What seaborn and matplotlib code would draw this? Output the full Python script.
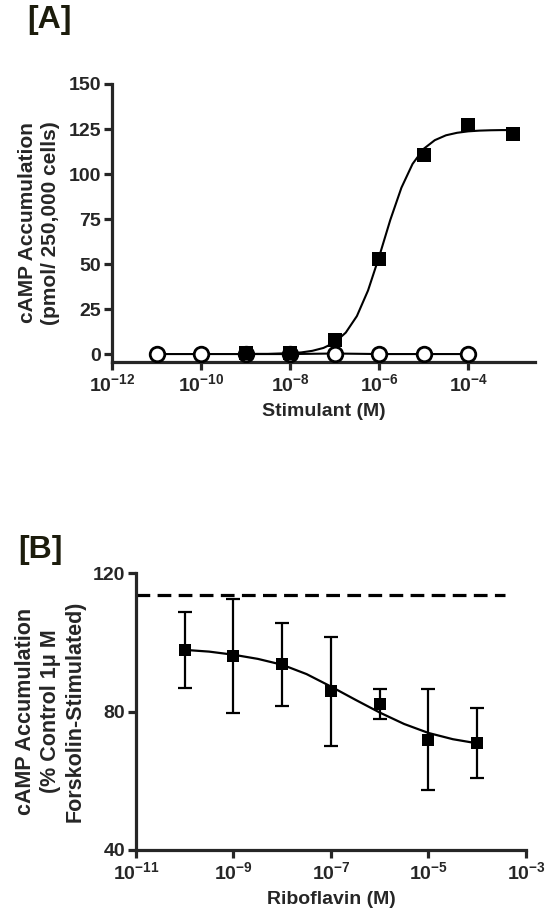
import numpy as np
import pandas as pd
import matplotlib
matplotlib.use("Agg")
import matplotlib.pyplot as plt
from matplotlib.ticker import FixedLocator, FixedFormatter, NullLocator
import seaborn as sns

# ---- painel A: estimulante (quadrados) e controle (circulos) ----
stim_conc = [1e-9, 1e-8, 1e-7, 1e-6, 1e-5, 1e-4, 1e-3]
stim_camp = [0.5, 0.5, 7.7, 52.7, 110.8, 127.3, 122.1]

ctrl_conc = [1e-11, 1e-10, 1e-9, 1e-8, 1e-7, 1e-6, 1e-5, 1e-4]
ctrl_camp = [0.0, 0.0, 0.0, 0.0, 0.3, 0.0, 0.0, 0.0]

# curva ajustada, expoentes de log10
fit_a_logx = [-9, -8.75, -8.5, -8.25, -8, -7.75, -7.5, -7.25, -7, -6.75, -6.5, -6.25,
              -6, -5.75, -5.5, -5.25, -5, -4.75, -4.5, -4.25, -4, -3.75, -3.5, -3.25, -3]
fit_a_y = [0.0, 0.1, 0.1, 0.3, 0.5, 0.9, 1.8, 3.4, 6.4, 11.9, 21.1, 35.3,
           54.1, 74.5, 92.4, 105.6, 114.0, 118.8, 121.5, 122.9, 123.7, 124.1, 124.3, 124.4, 124.4]

a_xticks = [1e-12, 1e-10, 1e-8, 1e-6, 1e-4]
a_xticklabels = ["$10^{-12}$", "$10^{-10}$", "$10^{-8}$", "$10^{-6}$", "$10^{-4}$"]
a_yticks = [0, 25, 50, 75, 100, 125, 150]

# ---- painel B: riboflavina ----
ribo_conc = [1e-10, 1e-9, 1e-8, 1e-7, 1e-6, 1e-5, 1e-4]
ribo_camp = [97.8, 96.1, 93.6, 85.8, 82.2, 71.9, 70.9]
ribo_sem = [11.0, 16.4, 12.0, 15.8, 4.4, 14.6, 10.1]

fit_b_logx = [-10, -9.5, -9, -8.5, -8, -7.5, -7, -6.5, -6, -5.5, -5, -4.5, -4]
fit_b_y = [97.8, 97.3, 96.4, 95.2, 93.5, 90.8, 87.2, 83.4, 79.7, 76.4, 73.8, 72.0, 70.8]

forsk_ctrl = 113.6
forsk_x = [1e-11, 3.7e-4]

b_xticks = [1e-11, 1e-9, 1e-7, 1e-5, 1e-3]
b_xticklabels = ["$10^{-11}$", "$10^{-9}$", "$10^{-7}$", "$10^{-5}$", "$10^{-3}$"]
b_yticks = [40, 80, 120]


def style_axis(ax):
    sns.despine(ax=ax)
    for side in ["left", "bottom"]:
        ax.spines[side].set_linewidth(2.3)
    ax.tick_params(direction="out", length=6, width=2.3, labelsize=14, pad=2)
    ax.xaxis.set_minor_locator(NullLocator())


sns.set_theme(style="ticks")
plt.rcParams["font.family"] = ["Liberation Sans", "DejaVu Sans"]
plt.rcParams["font.weight"] = "bold"
plt.rcParams["mathtext.fontset"] = "custom"
plt.rcParams["mathtext.rm"] = "Liberation Sans:bold"
plt.rcParams["mathtext.default"] = "rm"

fig = plt.figure(figsize=(5.49, 9.22), dpi=100)

# painel A
ax_a = fig.add_axes([0.204, 0.6074, 0.7705, 0.3015])
ax_a.set_xscale("log")
sns.lineplot(x=ctrl_conc, y=ctrl_camp, color="black", linewidth=1.5, ax=ax_a, zorder=2)
sns.scatterplot(x=ctrl_conc, y=ctrl_camp, marker="o", s=110, facecolor="white",
                edgecolor="black", linewidth=2, ax=ax_a, zorder=3)
sns.lineplot(x=[10 ** v for v in fit_a_logx], y=fit_a_y, color="black", linewidth=1.5,
             ax=ax_a, zorder=2)
sns.scatterplot(x=stim_conc, y=stim_camp, marker="s", s=90, color="black",
                edgecolor="black", linewidth=0, ax=ax_a, zorder=4)
ax_a.set_xlim(1e-12, 10 ** -2.5)
ax_a.set_ylim(-4.4, 150)
style_axis(ax_a)
ax_a.xaxis.set_major_locator(FixedLocator(a_xticks))
ax_a.xaxis.set_major_formatter(FixedFormatter(a_xticklabels))
ax_a.set_yticks(a_yticks)
ax_a.set_xlabel("Stimulant (M)", fontsize=14, fontweight="bold", labelpad=6)
ax_a.set_ylabel("cAMP Accumulation\n(pmol/ 250,000 cells)", fontsize=15,
                fontweight="bold", linespacing=1.3, labelpad=6)
fig.text(0.05, 0.995, "[A]", fontsize=23, fontweight="bold", color="#1c1c0c", va="top")

# painel B
ax_b = fig.add_axes([0.2477, 0.0781, 0.7104, 0.3004])
ax_b.set_xscale("log")
sns.lineplot(x=forsk_x, y=[forsk_ctrl, forsk_ctrl], color="black", linewidth=2.3,
             ax=ax_b, zorder=2)
ax_b.lines[-1].set_dashes((4.3, 2.3))
ax_b.errorbar(ribo_conc, ribo_camp, yerr=ribo_sem, fmt="none", ecolor="black",
              elinewidth=1.6, capsize=5, capthick=1.6, zorder=3)
sns.lineplot(x=[10 ** v for v in fit_b_logx], y=fit_b_y, color="black", linewidth=1.6,
             ax=ax_b, zorder=2)
sns.scatterplot(x=ribo_conc, y=ribo_camp, marker="s", s=80, color="black",
                linewidth=0, ax=ax_b, zorder=4)
ax_b.set_xlim(1e-11, 1e-3)
ax_b.set_ylim(40, 120)
style_axis(ax_b)
ax_b.xaxis.set_major_locator(FixedLocator(b_xticks))
ax_b.xaxis.set_major_formatter(FixedFormatter(b_xticklabels))
ax_b.set_yticks(b_yticks)
ax_b.set_xlabel("Riboflavin (M)", fontsize=14, fontweight="bold", labelpad=6)
ax_b.set_ylabel("cAMP Accumulation\n(% Control 1\u03bc M\nForskolin-Stimulated)", fontsize=15.5,
                fontweight="bold", linespacing=1.25, labelpad=5)
fig.text(0.033, 0.42, "[B]", fontsize=23, fontweight="bold", color="#1c1c0c", va="top")

fig.savefig("out.png", dpi=100)
